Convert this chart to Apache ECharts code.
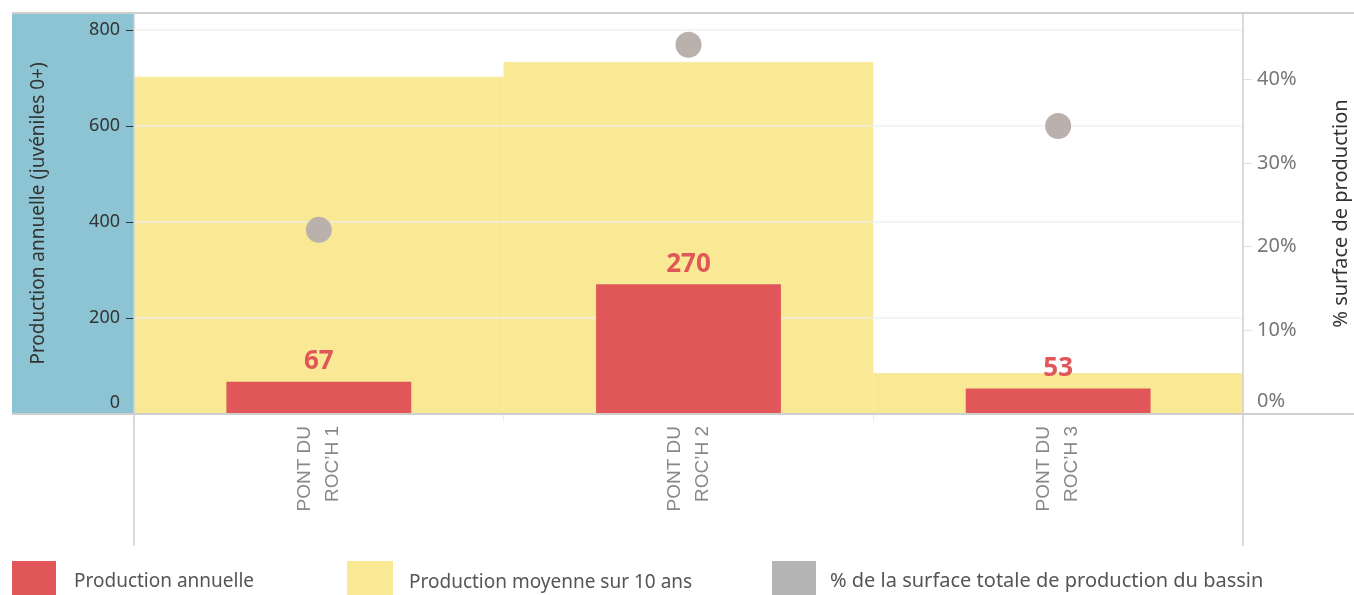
<!DOCTYPE html>
<html>
<head>
<meta charset="utf-8">
<script src="https://cdn.jsdelivr.net/npm/echarts@6/dist/echarts.min.js"></script>
<style>
html,body{margin:0;padding:0;background:#fff;}
#chart{width:1354px;height:595px;}
</style>
</head>
<body>
<div id="chart"></div>
<script>
const categories = ["PONT DU\nROC\u2019H 1", "PONT DU\nROC\u2019H 2", "PONT DU\nROC\u2019H 3"];
const annualProduction = [67, 270, 53];
const averageProduction10y = [702, 733, 85];
const surfacePercent = [22.0, 44.1, 34.4];
const leftTicks = [0, 200, 400, 600, 800];
const rightTicks = [0, 10, 20, 30, 40];

const FONT = '"Noto Sans", sans-serif';
const chart = echarts.init(document.getElementById('chart'), null, {renderer: 'canvas'});

function legendText(pad, size) {
  return {
    fontFamily: FONT, fontSize: size, color: '#555',
    rich: {t: {fontFamily: FONT, fontSize: size, color: '#555', padding: [7, 0, 0, pad]}}
  };
}

const option = {
  backgroundColor: '#fff',
  animation: false,
  grid: {left: 134, right: 111, top: 13, bottom: 181, outerBoundsMode: 'none', containLabel: false},
  legend: [
    {left: 12, top: 561, padding: 0, itemWidth: 44, itemHeight: 34, icon: 'rect', selectedMode: false,
     data: ['Production annuelle'], formatter: '{t|{name}}', textStyle: legendText(13, 19)},
    {left: 347, top: 561, padding: 0, itemWidth: 44, itemHeight: 34, icon: 'rect', selectedMode: false,
     data: ['Production moyenne sur 10 ans'], formatter: '{t|{name}}', textStyle: legendText(12, 19)},
    {left: 772, top: 561, padding: 0, itemWidth: 44, itemHeight: 34, icon: 'rect', selectedMode: false,
     data: [{name: '% de la surface totale de production du bassin', itemStyle: {color: '#b4b4b4'}}],
     formatter: '{t|{name}}', textStyle: legendText(9, 20)}
  ],
  xAxis: [
    {type: 'category', data: categories, position: 'bottom',
     axisLine: {show: false},
     axisTick: {show: true, length: 8, lineStyle: {color: '#eeeeee'}},
     axisLabel: {rotate: 90, margin: 12, fontFamily: '"Liberation Sans", Arial, sans-serif',
                 fontSize: 19, lineHeight: 28, color: '#888'}},
    {type: 'category', data: categories, show: false}
  ],
  yAxis: [
    {type: 'value', min: 0, max: 835, interval: 200, z: 3,
     name: 'Production annuelle (juvéniles 0+)', nameLocation: 'middle', nameGap: 86, nameRotate: 90,
     nameTextStyle: {fontFamily: FONT, fontSize: 19, color: '#333'},
     axisLine: {show: false},
     axisTick: {show: true, length: 8, lineStyle: {color: '#333'}},
     axisLabel: {showMaxLabel: false, margin: 14, fontFamily: FONT, fontSize: 18, color: '#333',
       formatter: v => leftTicks.indexOf(v) === 0 ? '{z|' + v + '}' : String(v),
       rich: {z: {fontFamily: FONT, fontSize: 18, color: '#333', padding: [0, 0, 22, 0]}}},
     splitLine: {show: true, lineStyle: {color: 'rgba(238,238,238,0.9)', width: 1.5}}},
    {type: 'value', min: 0, max: 47.9, interval: 10, position: 'right',
     name: '% surface de production', nameLocation: 'middle', nameGap: 88, nameRotate: 90,
     nameTextStyle: {fontFamily: FONT, fontSize: 20, color: '#333'},
     axisLine: {show: false},
     axisTick: {show: true, length: 9, lineStyle: {color: '#e2e2e2'}},
     axisLabel: {showMaxLabel: false, margin: 14, fontFamily: FONT, fontSize: 20, color: '#777',
       formatter: v => rightTicks.indexOf(v) === 0 ? '{z|' + v + '%}' : v + '%',
       rich: {z: {fontFamily: FONT, fontSize: 20, color: '#777', padding: [0, 0, 26, 0]}}},
     splitLine: {show: false}}
  ],
  series: [
    {name: 'Production moyenne sur 10 ans', type: 'bar', xAxisIndex: 0, yAxisIndex: 0,
     data: averageProduction10y, barWidth: '100%', z: 2,
     itemStyle: {color: '#f9e894', borderColor: '#f9e894', borderWidth: 0.8}},
    {name: 'Production annuelle', type: 'bar', xAxisIndex: 1, yAxisIndex: 0,
     data: annualProduction, barWidth: '50%', z: 4,
     itemStyle: {color: '#e15759'},
     label: {show: true, position: 'top', distance: 7, fontFamily: FONT, fontSize: 26,
             fontWeight: 'bold', color: '#e15759'}},
    {name: '% de la surface totale de production du bassin', type: 'scatter', xAxisIndex: 0, yAxisIndex: 1,
     data: surfacePercent, symbol: 'circle', symbolSize: 26, z: 5,
     itemStyle: {color: '#bab0ac', opacity: 1}}
  ],
  graphic: [
    {type: 'rect', z: -10, shape: {x: 12, y: 13, width: 122, height: 401}, style: {fill: '#8dc4d3'}},
    {type: 'line', z: 10, shape: {x1: 12, y1: 13, x2: 1354, y2: 13}, style: {stroke: '#cfcfcf', lineWidth: 2}},
    {type: 'line', z: 10, shape: {x1: 12, y1: 414, x2: 1354, y2: 414}, style: {stroke: '#cfcfcf', lineWidth: 2}},
    {type: 'line', z: 10, shape: {x1: 134, y1: 13, x2: 134, y2: 546}, style: {stroke: '#cfcfcf', lineWidth: 1.5}},
    {type: 'line', z: 10, shape: {x1: 1243, y1: 13, x2: 1243, y2: 546}, style: {stroke: '#cfcfcf', lineWidth: 1.5}}
  ]
};
chart.setOption(option);
</script>
</body>
</html>
